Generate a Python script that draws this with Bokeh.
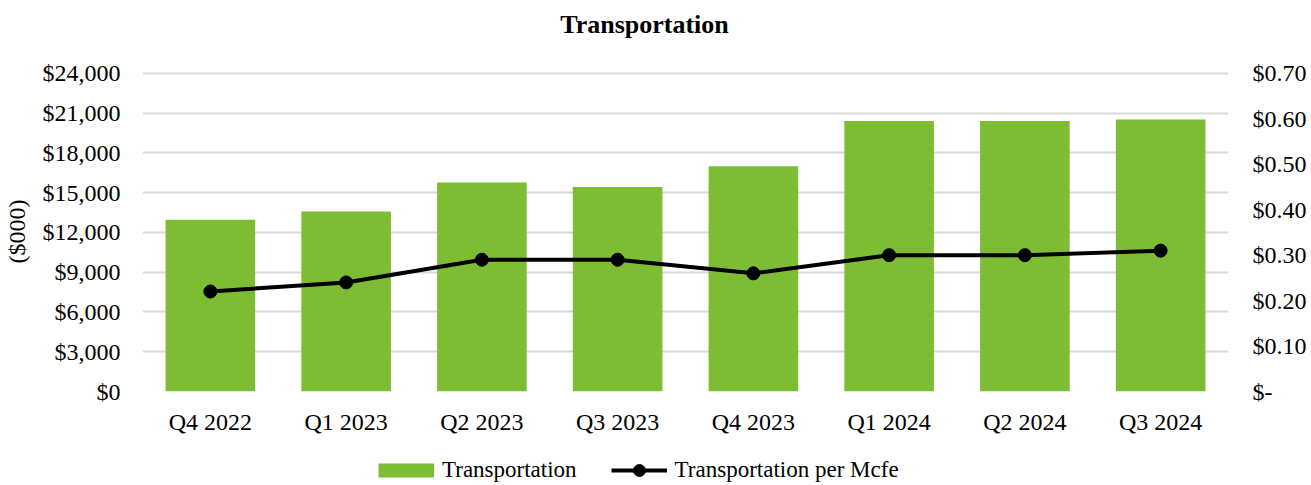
from bokeh.plotting import figure
from bokeh.layouts import column
from bokeh.models import (ColumnDataSource, Range1d, LinearAxis, FixedTicker, Label,
                          NumeralTickFormatter, CustomJSTickFormatter, Legend, LegendItem)
from bokeh.embed import file_html
from bokeh.resources import INLINE

title_text = "Transportation"
quarters = ["Q4 2022", "Q1 2023", "Q2 2023", "Q3 2023", "Q4 2023", "Q1 2024", "Q2 2024", "Q3 2024"]
transport = [12960, 13590, 15760, 15430, 17000, 20400, 20400, 20530]
per_mcfe = [0.22, 0.24, 0.29, 0.29, 0.26, 0.30, 0.30, 0.31]
left_ticks = [0, 3000, 6000, 9000, 12000, 15000, 18000, 21000, 24000]
right_ticks = [0.0, 0.1, 0.2, 0.3, 0.4, 0.5, 0.6, 0.7]
series_names = ["Transportation", "Transportation per Mcfe"]

FONT = "Liberation Serif"
GREEN = "#7cbd33"
W = 1311
BL, BR = 142, 83

# ---- title strip
ts = figure(width=W, height=50, x_range=Range1d(BL, W - BR), y_range=Range1d(0, 50),
            output_backend="svg", toolbar_location=None,
            min_border_left=BL, min_border_right=BR, min_border_top=0, min_border_bottom=0)
ts.outline_line_color = None
ts.axis.visible = False
ts.grid.visible = False
ts.add_layout(Label(x=644, y=26, text=title_text, text_align="center", text_baseline="middle",
                    text_font=FONT, text_font_size="26px", text_font_style="bold",
                    text_color="black"))

# ---- main chart
src = ColumnDataSource(dict(q=quarters, t=transport, m=per_mcfe))
top_pad = 1.006
p = figure(x_range=quarters, y_range=Range1d(0, left_ticks[-1] * top_pad), width=W, height=395,
           output_backend="svg", toolbar_location=None,
           min_border_left=BL, min_border_right=BR, min_border_top=21, min_border_bottom=54)
p.outline_line_color = None
p.background_fill_color = "white"
p.extra_y_ranges = {"r": Range1d(0, right_ticks[-1] * top_pad)}

p.vbar(x="q", top="t", width=0.66, source=src, fill_color=GREEN, line_color=None)
p.line(x="q", y="m", source=src, y_range_name="r", line_color="black", line_width=4)
p.scatter(x="q", y="m", source=src, y_range_name="r", size=13,
          fill_color="black", line_color="black")

p.yaxis.ticker = FixedTicker(ticks=left_ticks)
p.yaxis.formatter = NumeralTickFormatter(format="$0,0")
p.yaxis.axis_label = "($000)"

ra = LinearAxis(y_range_name="r", ticker=FixedTicker(ticks=right_ticks),
                formatter=CustomJSTickFormatter(code='return tick < 0.001 ? "$-" : "$" + tick.toFixed(2);'))
p.add_layout(ra, "right")

for ax in [p.yaxis[0], ra, p.xaxis[0]]:
    ax.axis_line_color = None
    ax.major_tick_line_color = None
    ax.minor_tick_line_color = None
    ax.major_label_text_font = FONT
    ax.major_label_text_font_size = "24px"
    ax.major_label_text_color = "black"
    ax.axis_label_text_font = FONT
    ax.axis_label_text_font_size = "24px"
    ax.axis_label_text_font_style = "normal"
    ax.axis_label_text_color = "black"

p.yaxis[0].major_label_standoff = 16
p.yaxis[0].axis_label_standoff = 10
ra.major_label_standoff = 18
p.xaxis.major_label_standoff = 11

p.xgrid.grid_line_color = None
p.ygrid.grid_line_color = "#d9d9d9"
p.ygrid.grid_line_width = 2
p.ygrid.ticker = FixedTicker(ticks=left_ticks)

# ---- legend strip
lg = figure(width=W, height=40, x_range=Range1d(1, 2), y_range=Range1d(1, 2),
            output_backend="svg", toolbar_location=None,
            min_border_left=BL, min_border_right=BR, min_border_top=0, min_border_bottom=0)
lg.outline_line_color = None
lg.axis.visible = False
lg.grid.visible = False
dummy = ColumnDataSource(dict(x=[0], y=[0]))
b_r = lg.line(x="x", y="y", source=dummy, line_color=GREEN, line_width=14, line_cap="butt")
l_r = lg.line(x="x", y="y", source=dummy, line_color="black", line_width=4)
s_r = lg.scatter(x="x", y="y", source=dummy, size=13, fill_color="black", line_color="black")

legend = Legend(items=[LegendItem(label=series_names[0], renderers=[b_r]),
                       LegendItem(label=series_names[1], renderers=[l_r, s_r])],
                orientation="horizontal", location=(236, 0),
                label_text_font=FONT, label_text_font_size="23px", label_text_color="black",
                label_standoff=8, glyph_width=56, glyph_height=30, spacing=34,
                border_line_color=None, background_fill_alpha=0, margin=0, padding=0)
lg.add_layout(legend, "center")

open("out.html", "w").write(file_html(column(ts, p, lg, spacing=0), INLINE))
